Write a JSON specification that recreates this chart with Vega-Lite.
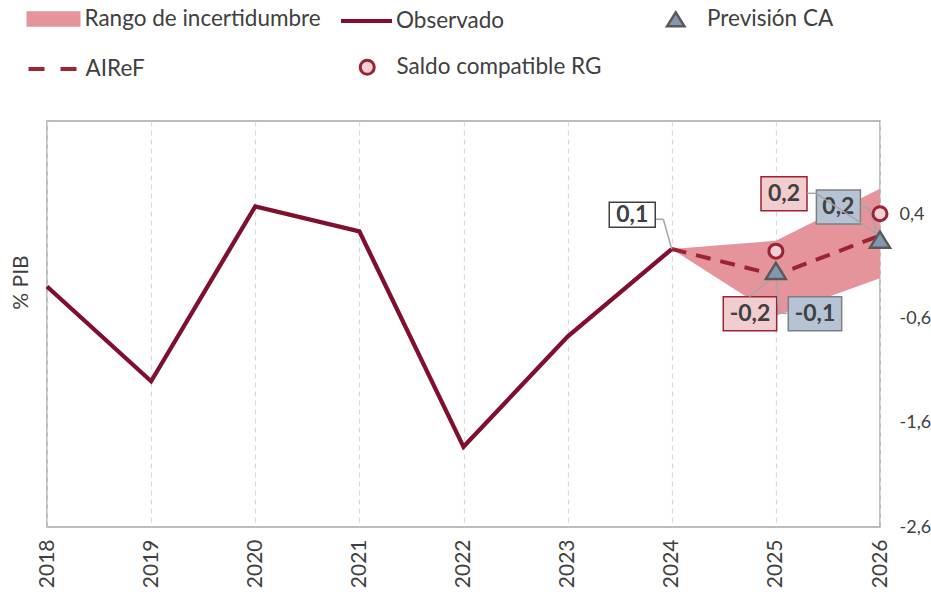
{
  "$schema": "https://vega.github.io/schema/vega-lite/v6.json",
  "width": 833,
  "height": 406,
  "autosize": {"type": "none"},
  "padding": {"left": 47, "top": 121, "right": 51, "bottom": 67},
  "background": "#ffffff",
  "datasets": {
    "lineas": [
      {"serie": "Observado", "anio": 2018, "valor": -0.29},
      {"serie": "Observado", "anio": 2019, "valor": -1.20},
      {"serie": "Observado", "anio": 2020, "valor": 0.48},
      {"serie": "Observado", "anio": 2021, "valor": 0.24},
      {"serie": "Observado", "anio": 2022, "valor": -1.83},
      {"serie": "Observado", "anio": 2023, "valor": -0.77},
      {"serie": "Observado", "anio": 2024, "valor": 0.07},
      {"serie": "AIReF", "anio": 2024, "valor": 0.07},
      {"serie": "AIReF", "anio": 2025, "valor": -0.18},
      {"serie": "AIReF", "anio": 2026, "valor": 0.20},
      {"serie": "Previsión CA", "anio": 2025, "valor": -0.14},
      {"serie": "Previsión CA", "anio": 2026, "valor": 0.16},
      {"serie": "Saldo compatible RG", "anio": 2025, "valor": 0.05},
      {"serie": "Saldo compatible RG", "anio": 2026, "valor": 0.41}
    ],
    "banda": [
      {"serie": "Rango de incertidumbre", "anio": 2024, "valor": 0.07, "sup": 0.07},
      {"serie": "Rango de incertidumbre", "anio": 2025, "valor": -0.57, "sup": 0.15},
      {"serie": "Rango de incertidumbre", "anio": 2026, "valor": -0.21, "sup": 0.65}
    ]
  },
  "data": {"name": "lineas"},
  "encoding": {
    "x": {
      "field": "anio", "type": "quantitative",
      "scale": {"domain": [2018, 2026], "nice": false, "zero": false},
      "axis": {
        "values": [2018, 2019, 2020, 2021, 2022, 2023, 2024, 2025, 2026],
        "format": "d", "title": null, "labelAngle": -90, "labelAlign": "right", "labelBaseline": "middle",
        "labelFont": "Lato", "labelFontSize": 21, "labelColor": "#404040", "labelPadding": 12,
        "labelFlush": false, "labelOverlap": false, "ticks": false, "domain": false,
        "grid": true, "gridColor": "#d9d9d9", "gridDash": [5, 4], "gridWidth": 1.2
      }
    },
    "y": {
      "field": "valor", "type": "quantitative",
      "scale": {"domain": [-2.6, 1.3], "nice": false, "zero": false},
      "axis": {
        "orient": "right", "values": [-2.6, -1.6, -0.6, 0.4], "format": ".1f",
        "ticks": false, "domain": false, "grid": false,
        "labelFont": "Lato", "labelFontSize": 18, "labelColor": "#404040", "labelPadding": 19, "labelOverlap": false,
        "title": "% PIB", "titleAngle": 270, "titleX": -859, "titleY": 161, "titleAlign": "center", "titleBaseline": "middle",
        "titleFont": "Lato", "titleFontSize": 21, "titleFontWeight": "normal", "titleColor": "#404040"
      }
    }
  },
  "layer": [
    {
      "data": {"name": "banda"},
      "mark": {"type": "area", "opacity": 1},
      "encoding": {
        "y2": {"field": "sup"},
        "color": {
          "field": "serie", "type": "nominal",
          "scale": {"range": ["#e5949c"]},
          "legend": {
            "title": null, "orient": "none", "legendX": -20.5, "legendY": -129,
            "symbolType": "M-1,-0.29L1,-0.29L1,0.29L-1,0.29Z", "symbolSize": 2916, "symbolStrokeWidth": 0,
            "labelOffset": 4
          }
        }
      }
    },
    {
      "transform": [{"filter": "datum.serie == 'Observado'"}],
      "mark": {"type": "line", "strokeWidth": 4.3},
      "encoding": {
        "color": {
          "field": "serie", "type": "nominal",
          "scale": {"range": ["#800e2e"]},
          "legend": {
            "title": null, "orient": "none", "legendX": 292, "legendY": -127.5,
            "symbolType": "stroke", "symbolSize": 2601, "symbolStrokeWidth": 4,
            "labelOffset": 2
          }
        }
      }
    },
    {
      "transform": [{"filter": "datum.serie == 'AIReF'"}],
      "mark": {"type": "line", "strokeWidth": 4, "strokeDash": [15, 10]},
      "encoding": {
        "color": {
          "field": "serie", "type": "nominal",
          "scale": {"range": ["#9b2335"]},
          "legend": {
            "title": null, "orient": "none", "legendX": -20.5, "legendY": -78.5,
            "symbolType": "stroke", "symbolSize": 2401, "symbolStrokeWidth": 4, "symbolDash": [16, 16],
            "labelOffset": 6
          }
        }
      }
    },
    {
      "transform": [{"filter": "datum.serie == 'Observado' && datum.anio == 2024"}],
      "layer": [
        {"mark": {"type": "rule", "stroke": "#a6a6a6", "strokeWidth": 1.5, "x2Offset": -8.4, "y2Offset": -29.8},
         "encoding": {"x2": {"field": "anio"}, "y2": {"field": "valor"}}},
        {"mark": {"type": "rule", "stroke": "#a6a6a6", "strokeWidth": 1.5, "xOffset": -8.4, "yOffset": -29.8, "x2Offset": -16.7, "y2Offset": -29.8},
         "encoding": {"x2": {"field": "anio"}, "y2": {"field": "valor"}}},
        {"mark": {"type": "point", "shape": "M-1,-0.543L1,-0.543L1,0.543L-1,0.543Z", "size": 2116, "filled": true, "fill": "#ffffff", "stroke": "#404040", "strokeWidth": 1.5, "opacity": 1, "xOffset": -39.5, "yOffset": -34.2}},
        {"mark": {"type": "text", "font": "Lato", "fontWeight": "bold", "fontSize": 23, "fill": "#404040", "align": "center", "baseline": "middle", "xOffset": -39.5, "yOffset": -34.2},
         "encoding": {"text": {"field": "valor", "type": "quantitative", "format": ".1f"}}}
      ]
    },
    {
      "transform": [{"filter": "datum.serie == 'AIReF' && datum.anio == 2026"}],
      "layer": [
        {"mark": {"type": "point", "shape": "M-1,-0.739L1,-0.739L1,0.739L-1,0.739Z", "size": 2116, "filled": true, "fill": "#f2cdd0", "stroke": "#9b2335", "strokeWidth": 1.5, "opacity": 1, "xOffset": -96, "yOffset": -41.7}},
        {"mark": {"type": "text", "font": "Lato", "fontWeight": "bold", "fontSize": 23, "fill": "#404040", "align": "center", "baseline": "middle", "xOffset": -96, "yOffset": -41.7},
         "encoding": {"text": {"field": "valor", "type": "quantitative", "format": ".1f"}}}
      ]
    },
    {
      "transform": [{"filter": "datum.serie == 'Previsión CA' && datum.anio == 2026"}],
      "layer": [
        {"mark": {"type": "point", "shape": "M-1,-0.773L1,-0.773L1,0.773L-1,0.773Z", "size": 1936, "filled": true, "fill": "#b6c3d4", "stroke": "#7f7f7f", "strokeWidth": 1.5, "opacity": 1, "xOffset": -41.6, "yOffset": -32.7}},
        {"mark": {"type": "text", "font": "Lato", "fontWeight": "bold", "fontSize": 23, "fill": "#404040", "align": "center", "baseline": "middle", "xOffset": -41.6, "yOffset": -32.7},
         "encoding": {"text": {"field": "valor", "type": "quantitative", "format": ".1f"}}},
        {"mark": {"type": "rule", "stroke": "#a6a6a6", "strokeWidth": 1.5, "x2Offset": -11.7, "y2Offset": -32},
         "encoding": {"x2": {"field": "anio"}, "y2": {"field": "valor"}}},
        {"mark": {"type": "rule", "stroke": "#a6a6a6", "strokeWidth": 1.5, "xOffset": -11.7, "yOffset": -32, "x2Offset": -19.6, "y2Offset": -32},
         "encoding": {"x2": {"field": "anio"}, "y2": {"field": "valor"}}}
      ]
    },
    {
      "transform": [{"filter": "datum.serie == 'AIReF' && datum.anio == 2026"}],
      "layer": [
        {"mark": {"type": "rule", "stroke": "#a6a6a6", "strokeWidth": 1.5, "x2Offset": -64, "y2Offset": -42.2},
         "encoding": {"x2": {"field": "anio"}, "y2": {"field": "valor"}}},
        {"mark": {"type": "rule", "stroke": "#a6a6a6", "strokeWidth": 1.5, "xOffset": -64, "yOffset": -42.2, "x2Offset": -73, "y2Offset": -42.2},
         "encoding": {"x2": {"field": "anio"}, "y2": {"field": "valor"}}}
      ]
    },
    {
      "transform": [{"filter": "datum.serie == 'AIReF' && datum.anio == 2025"}],
      "layer": [
        {"mark": {"type": "point", "shape": "M-1,-0.637L1,-0.637L1,0.637L-1,0.637Z", "size": 2852, "filled": true, "fill": "#f2cdd0", "stroke": "#9b2335", "strokeWidth": 1.5, "opacity": 1, "xOffset": -25.9, "yOffset": 38.6}},
        {"mark": {"type": "rule", "stroke": "#a6a6a6", "strokeWidth": 1.5, "x2Offset": -26.6, "y2Offset": 21.6},
         "encoding": {"x2": {"field": "anio"}, "y2": {"field": "valor"}}},
        {"mark": {"type": "text", "font": "Lato", "fontWeight": "bold", "fontSize": 23, "fill": "#404040", "align": "center", "baseline": "middle", "xOffset": -25.9, "yOffset": 38.6},
         "encoding": {"text": {"field": "valor", "type": "quantitative", "format": ".1f"}}}
      ]
    },
    {
      "transform": [{"filter": "datum.serie == 'Previsión CA' && datum.anio == 2025"}],
      "layer": [
        {"mark": {"type": "point", "shape": "M-1,-0.637L1,-0.637L1,0.637L-1,0.637Z", "size": 2852, "filled": true, "fill": "#b6c3d4", "stroke": "#7f7f7f", "strokeWidth": 1.5, "opacity": 1, "xOffset": 39.1, "yOffset": 42.8}},
        {"mark": {"type": "rule", "stroke": "#a6a6a6", "strokeWidth": 1.5, "x2Offset": 3.1, "y2Offset": 42.4},
         "encoding": {"x2": {"field": "anio"}, "y2": {"field": "valor"}}},
        {"mark": {"type": "rule", "stroke": "#a6a6a6", "strokeWidth": 1.5, "xOffset": 3.1, "yOffset": 42.4, "x2Offset": 12.4, "y2Offset": 42.4},
         "encoding": {"x2": {"field": "anio"}, "y2": {"field": "valor"}}},
        {"mark": {"type": "text", "font": "Lato", "fontWeight": "bold", "fontSize": 23, "fill": "#404040", "align": "center", "baseline": "middle", "xOffset": 39.1, "yOffset": 42.8},
         "encoding": {"text": {"field": "valor", "type": "quantitative", "format": ".1f"}}}
      ]
    },
    {
      "transform": [{"filter": "datum.serie == 'Saldo compatible RG'"}],
      "mark": {"type": "point", "shape": "circle", "size": 196, "filled": true, "stroke": "#9b2335", "strokeWidth": 3, "opacity": 1},
      "encoding": {
        "color": {
          "field": "serie", "type": "nominal",
          "scale": {"range": ["#f2d0d3"]},
          "legend": {
            "title": null, "orient": "none", "legendX": 309, "legendY": -65,
            "symbolType": "circle", "symbolSize": 196, "symbolStrokeWidth": 3, "symbolStrokeColor": "#9b2335",
            "labelOffset": 18,
            "encode": {"symbols": {"update": {"stroke": {"value": "#9b2335"}, "strokeWidth": {"value": 3}, "fill": {"value": "#f2d0d3"}, "opacity": {"value": 1}}}}
          }
        }
      }
    },
    {
      "transform": [{"filter": "datum.serie == 'Previsión CA'"}],
      "mark": {"type": "point", "shape": "M0,-0.8L1,0.8L-1,0.8Z", "size": 400, "filled": true, "stroke": "#595959", "strokeWidth": 2.5, "opacity": 1},
      "encoding": {
        "color": {
          "field": "serie", "type": "nominal",
          "scale": {"range": ["#8497b0"]},
          "legend": {
            "title": null, "orient": "none", "legendX": 617.5, "legendY": -113,
            "symbolType": "M0,-0.8L1,0.8L-1,0.8Z", "symbolSize": 300, "symbolStrokeWidth": 2.5, "symbolStrokeColor": "#595959",
            "labelOffset": 20,
            "encode": {"symbols": {"update": {"stroke": {"value": "#595959"}, "strokeWidth": {"value": 2.5}, "fill": {"value": "#8497b0"}, "opacity": {"value": 1}}}}
          }
        }
      }
    }
  ],
  "resolve": {"scale": {"color": "independent"}},
  "config": {
    "font": "Lato",
    "view": {"stroke": "#a6a6a6", "strokeWidth": 1.5},
    "legend": {"labelFont": "Lato", "labelFontSize": 22.5, "labelColor": "#404040", "padding": 0, "titlePadding": 0, "rowPadding": 0, "labelLimit": 400},
    "locale": {"number": {"decimal": ",", "thousands": ".", "grouping": [3], "currency": ["", " €"], "minus": "-"}}
  }
}
